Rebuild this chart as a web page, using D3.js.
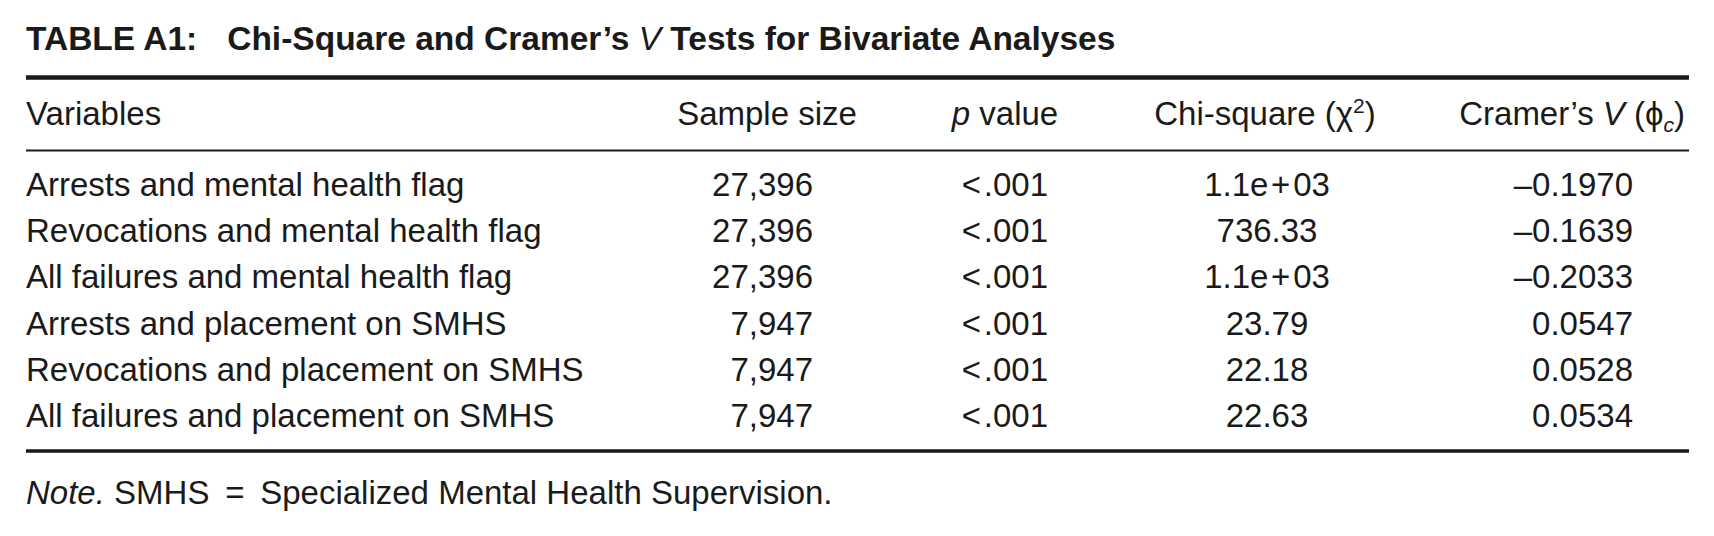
<!DOCTYPE html>
<html>
<head>
<meta charset="utf-8">
<script src="https://cdn.jsdelivr.net/npm/d3@7"></script>
<style>
    body { margin: 0; background: #ffffff; }
    text { font-family: "Liberation Sans", Arial, Helvetica, sans-serif; fill: #1a1a1a; }
</style>
</head>
<body>
<div id="table"></div>
<script>
// table content
const variables = [
    "Arrests and mental health flag",
    "Revocations and mental health flag",
    "All failures and mental health flag",
    "Arrests and placement on SMHS",
    "Revocations and placement on SMHS",
    "All failures and placement on SMHS"
];
const sampleSizes = [27396, 27396, 27396, 7947, 7947, 7947];
const pValues = ["<.001", "<.001", "<.001", "<.001", "<.001", "<.001"];
const chiSquare = ["1.1e+03", "736.33", "1.1e+03", "23.79", "22.18", "22.63"];
const cramersV = [-0.1970, -0.1639, -0.2033, 0.0547, 0.0528, 0.0534];
const columns = ["variables", "sample", "p", "chi", "cramer"];

const dimensions = {
    width: 1714,
    height: 536,
    left: 26,
    right: 1689
};

const fmtN = d3.format(",");
const fmtV = (v) => (v < 0 ? "\u2013" : "") + Math.abs(v).toFixed(4);
// math style spacing round the plus and less-than signs
const fmtMath = (s) => s.replace("+", "\u200A+\u200A").replace("<", "<\u200A");

// row baselines
const yScale = d3.scalePoint()
    .domain(variables)
    .range([196, 427]);

// column anchors
const headerX = d3.scaleOrdinal()
    .domain(columns)
    .range([26, 767, 1005, 1265, 1685]);
const headerAnchor = d3.scaleOrdinal()
    .domain(columns)
    .range(["start", "middle", "middle", "middle", "end"]);
const cellX = d3.scaleOrdinal()
    .domain(columns)
    .range([26, 813, 1048, 1267, 1633]);
const cellAnchor = d3.scaleOrdinal()
    .domain(columns)
    .range(["start", "end", "end", "middle", "end"]);

const wrapper = d3.select("#table")
    .append("svg")
    .attr("width", dimensions.width)
    .attr("height", dimensions.height)

//TITLE
const title = wrapper.append("text")
    .attr("x", dimensions.left)
    .attr("y", 50)
    .style("font-size", "33.5px")
    .style("font-weight", "bold")
title.append("tspan").text("TABLE A1:")
title.append("tspan").attr("dx", 30).text("Chi-Square and Cramer\u2019s ")
title.append("tspan").style("font-style", "italic").style("font-weight", "normal").text("V")
title.append("tspan").text(" Tests for Bivariate Analyses")

//RULES
const rules = [
    { y: 77.5, w: 4.5 },
    { y: 150.5, w: 2 },
    { y: 451, w: 3.3 }
];
wrapper.selectAll("line.rule")
    .data(rules)
    .enter().append("line")
    .attr("class", "rule")
    .attr("x1", dimensions.left)
    .attr("x2", dimensions.right)
    .attr("y1", d => d.y)
    .attr("y2", d => d.y)
    .style("stroke", "#1a1a1a")
    .style("stroke-width", d => d.w)

//HEADER
const header = wrapper.append("g")
    .style("font-size", "33px")
const hText = (key) => header.append("text")
    .attr("x", headerX(key))
    .attr("y", 125)
    .attr("text-anchor", headerAnchor(key))

hText("variables").text("Variables")
hText("sample").text("Sample size")
const pHead = hText("p")
pHead.append("tspan").style("font-style", "italic").text("p")
pHead.append("tspan").text(" value")
const chiHead = hText("chi")
chiHead.append("tspan").text("Chi-square (\u03C7")
chiHead.append("tspan").attr("dy", -12).style("font-size", "21px").text("2")
chiHead.append("tspan").attr("dy", 12).text(")")
const vHead = hText("cramer")
vHead.append("tspan").text("Cramer\u2019s ")
vHead.append("tspan").style("font-style", "italic").text("V")
vHead.append("tspan").text(" (\u03D5")
vHead.append("tspan").attr("dy", 7).style("font-size", "21px").style("font-style", "italic").text("c")
vHead.append("tspan").attr("dy", -7).text(")")

//BODY
const rows = variables.map((v, i) => ({
    variables: v,
    sample: fmtN(sampleSizes[i]),
    p: fmtMath(pValues[i]),
    chi: fmtMath(chiSquare[i]),
    cramer: fmtV(cramersV[i])
}));

const body = wrapper.append("g")
    .style("font-size", "33px")

const rowG = body.selectAll("g")
    .data(rows)
    .enter().append("g")
    .attr("transform", d => `translate(0, ${yScale(d.variables)})`)

rowG.selectAll("text")
    .data(d => columns.map(c => ({ col: c, value: d[c] })))
    .enter().append("text")
    .attr("x", d => cellX(d.col))
    .attr("text-anchor", d => cellAnchor(d.col))
    .text(d => d.value)

//NOTE
const note = wrapper.append("text")
    .attr("x", dimensions.left)
    .attr("y", 504)
    .style("font-size", "33px")
note.append("tspan").style("font-style", "italic").text("Note.")
note.append("tspan").text(" SMHS \u2009=\u2009 Specialized Mental Health Supervision.")
</script>
</body>
</html>
